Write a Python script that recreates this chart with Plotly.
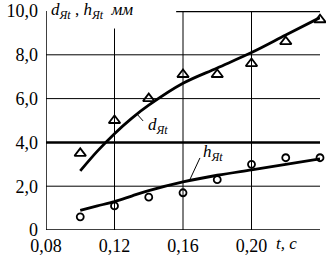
import plotly.graph_objects as go

t_pts = [0.10, 0.12, 0.14, 0.16, 0.18, 0.20, 0.22, 0.24]
d_pts = [3.5, 5.0, 6.0, 7.1, 7.1, 7.6, 8.6, 9.6]
h_pts = [0.6, 1.1, 1.5, 1.7, 2.3, 3.0, 3.3, 3.3]

t_fit = [0.10, 0.11, 0.12, 0.13, 0.14, 0.16, 0.18, 0.20, 0.22, 0.24]
d_fit = [2.7, 3.6, 4.4, 5.1, 5.7, 6.7, 7.4, 8.1, 8.9, 9.7]
h_fit = [0.9, 1.1, 1.3, 1.55, 1.8, 2.2, 2.5, 2.75, 3.0, 3.25]

x_ticks = [0.08, 0.12, 0.16, 0.20]
x_labels = ["0,08", "0,12", "0,16", "0,20"]
y_ticks = [0, 2, 4, 6, 8, 10]
y_labels = ["0", "2,0", "4,0", "6,0", "8,0", "10,0"]

font = "'Liberation Serif', 'DejaVu Serif', serif"
fig = go.Figure()
fig.add_trace(go.Scatter(x=t_fit, y=d_fit, mode="lines", line=dict(color="black", width=2.8, shape="spline"),
                         showlegend=False, cliponaxis=False))
fig.add_trace(go.Scatter(x=t_fit, y=h_fit, mode="lines", line=dict(color="black", width=2.8, shape="spline"),
                         showlegend=False, cliponaxis=False))
fig.add_trace(go.Scatter(x=t_pts, y=d_pts, mode="markers",
                         marker=dict(symbol="triangle-up-open", size=10, color="black", line=dict(width=1.8)),
                         showlegend=False, cliponaxis=False))
fig.add_trace(go.Scatter(x=t_pts, y=h_pts, mode="markers",
                         marker=dict(symbol="circle-open", size=7, color="black", line=dict(width=1.8)),
                         showlegend=False, cliponaxis=False))

shapes = []
for yv, w in [(2, 1), (4, 2.5), (6, 1), (8, 1)]:
    shapes.append(dict(type="line", xref="x", yref="y", x0=0.08, x1=0.24, y0=yv, y1=yv,
                       line=dict(color="black", width=w), layer="below"))
shapes.append(dict(type="line", xref="x", yref="y", x0=0.12, x1=0.12, y0=0, y1=9.2,
                   line=dict(color="black", width=1), layer="below"))
for xv in [0.16, 0.20]:
    shapes.append(dict(type="line", xref="x", yref="y", x0=xv, x1=xv, y0=0, y1=10,
                       line=dict(color="black", width=1), layer="below"))
shapes.append(dict(type="line", xref="x", yref="y", x0=0.156, x1=0.24, y0=10, y1=10,
                   line=dict(color="black", width=2.5), layer="below"))
shapes.append(dict(type="line", xref="x", yref="y", x0=0.08, x1=0.08, y0=0, y1=10,
                   line=dict(color="black", width=1.5)))
shapes.append(dict(type="line", xref="x", yref="y", x0=0.08, x1=0.24, y0=0, y1=0,
                   line=dict(color="black", width=1.5)))
shapes.append(dict(type="line", xref="x", yref="y", x0=0.1326, x1=0.1367, y0=5.34, y1=4.98,
                   line=dict(color="black", width=1)))
shapes.append(dict(type="line", xref="x", yref="y", x0=0.1699, x1=0.164, y0=3.29, y1=2.3,
                   line=dict(color="black", width=1)))

annotations = [
    dict(x=0.1455, y=4.75, xref="x", yref="y", text="<i>d</i><sub><i>Яt</i></sub>", showarrow=False,
         font=dict(family=font, size=17, color="black")),
    dict(x=0.1775, y=3.5, xref="x", yref="y", text="<i>h</i><sub><i>Яt</i></sub>", showarrow=False,
         font=dict(family=font, size=17, color="black")),
    dict(x=0.01, y=1.0, xref="paper", yref="paper", xanchor="left", yanchor="middle",
         text="<i>d</i><sub><i>Яt</i></sub> , <i>h</i><sub><i>Яt</i></sub>  <i>мм</i>", showarrow=False,
         font=dict(family=font, size=17, color="black"), bgcolor="white"),
    dict(x=0.925, y=-0.06, xref="paper", yref="paper", yanchor="middle", text="<i>t, c</i>", showarrow=False,
         font=dict(family=font, size=17, color="black")),
]

fig.update_layout(
    width=326, height=256,
    margin=dict(l=46, r=6, t=11, b=26),
    font=dict(family=font, color="black"),
    plot_bgcolor="white", paper_bgcolor="white",
    shapes=shapes, annotations=annotations,
    xaxis=dict(range=[0.08, 0.24], tickvals=x_ticks, ticktext=x_labels, showgrid=False, zeroline=False,
               showline=False, ticks="", automargin=False, ticklabelstandoff=3,
               tickfont=dict(family=font, size=18, color="black")),
    yaxis=dict(range=[0, 10], tickvals=y_ticks, ticktext=y_labels, showgrid=False, zeroline=False,
               showline=False, ticks="", automargin=False, ticklabelstandoff=7,
               tickfont=dict(family=font, size=18, color="black")),
)
fig.write_html("out.html", config={"displayModeBar": False},
               post_script="document.body.style.margin='0';document.body.style.overflow='hidden';")
